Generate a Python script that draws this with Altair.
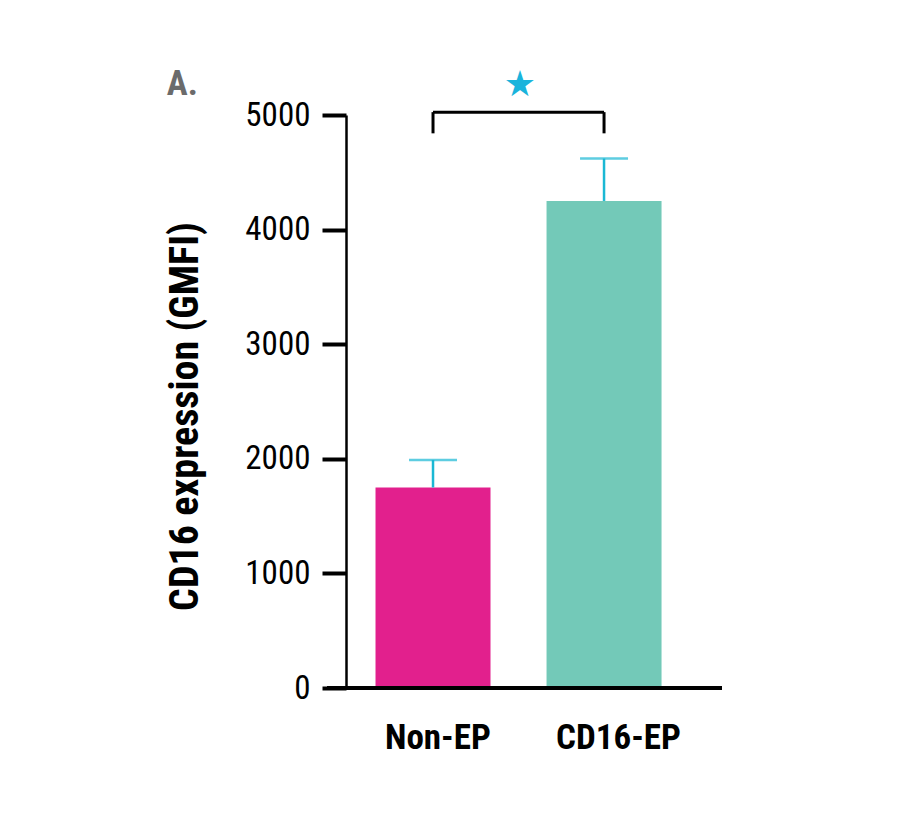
import altair as alt
import pandas as pd

categories = ["Non-EP", "CD16-EP"]
values = [1750, 4250]
upper = [1990, 4620]
colors = ["#e2208d", "#73c9b8"]

bracket_top = 5025
bracket_bottom = 4840
star_y = 5260

FONT = "Roboto Condensed, DejaVu Sans Condensed, Roboto, sans-serif"

df = pd.DataFrame({"cat": categories, "val": values, "up": upper, "color": colors})

xscale = alt.Scale(domain=categories, paddingInner=0.3275, paddingOuter=0.263, align=0.328)
xenc = alt.X("cat:N", scale=xscale, sort=categories,
             axis=alt.Axis(title=None, domain=False, ticks=False, labelAngle=0,
                           labelAlign="left", labelOffset=-48,
                           labelFont=FONT, labelFontSize=35, labelFontWeight="bold",
                           labelColor="#000", labelPadding=32))
yscale = alt.Scale(domain=[0, 5000], nice=False)

bars = alt.Chart(df).mark_bar(size=115).encode(
    x=xenc,
    y=alt.Y("val:Q", scale=yscale,
            axis=alt.Axis(title="CD16 expression (GMFI)", values=[0, 1000, 2000, 3000, 4000, 5000],
                          format="d", grid=False, domainColor="#000", domainWidth=2.5,
                          tickColor="#000", tickWidth=4, tickSize=24,
                          labelFont=FONT, labelFontSize=33, labelColor="#000", labelPadding=12,
                          titleFont=FONT, titleFontSize=40, titleFontWeight="bold",
                          titleColor="#000", titlePadding=39, titleY=301)),
    color=alt.Color("color:N", scale=None),
)

err = alt.Chart(df).mark_rule(color="#1ab8d4", strokeWidth=2.5).encode(
    x=alt.X("cat:N", scale=xscale, sort=categories),
    y="val:Q", y2="up:Q")
caps = alt.Chart(df).mark_tick(color="#1ab8d4", thickness=2.5, size=48).encode(
    x=alt.X("cat:N", scale=xscale, sort=categories),
    y="up:Q")

bdf = pd.DataFrame({"a": [categories[0]], "b": [categories[1]], "top": [bracket_top]})
bh = alt.Chart(bdf).mark_rule(color="#000", strokeWidth=3).encode(
    x=alt.X("a:N", scale=xscale, sort=categories), x2="b:N", y="top:Q")
legs = pd.DataFrame({"cat": categories, "top": [bracket_top] * 2, "bot": [bracket_bottom] * 2})
bl = alt.Chart(legs).mark_rule(color="#000", strokeWidth=3).encode(
    x=alt.X("cat:N", scale=xscale, sort=categories), y="top:Q", y2="bot:Q")

sdf = pd.DataFrame({"cat": [categories[0]], "s": [star_y], "t": ["★"]})
star = alt.Chart(sdf).mark_text(font="DejaVu Sans", fontSize=36, color="#1ab4dc",
                                baseline="middle", align="center", dx=87).encode(
    x=alt.X("cat:N", scale=xscale, sort=categories), y="s:Q", text="t:N")

zdf = pd.DataFrame({"z": [0]})
xaxis_line = alt.Chart(zdf).mark_rule(color="#000", strokeWidth=4).encode(
    y="z:Q", x=alt.value(-19), x2=alt.value(376))

chart = alt.layer(bars, err, caps, xaxis_line, bh, bl, star).properties(
    width=376, height=573,
    title=alt.TitleParams("A.", anchor="start", dx=1, dy=39, font=FONT, fontSize=35,
                          fontWeight="bold", color="#6b6b6b"),
    autosize=alt.AutoSizeParams(type="none"),
    padding={"left": 338, "top": 107, "right": 150, "bottom": 110},
).configure_view(stroke=None)

chart.save("out.html", embed_options={"renderer": "svg", "actions": False})
